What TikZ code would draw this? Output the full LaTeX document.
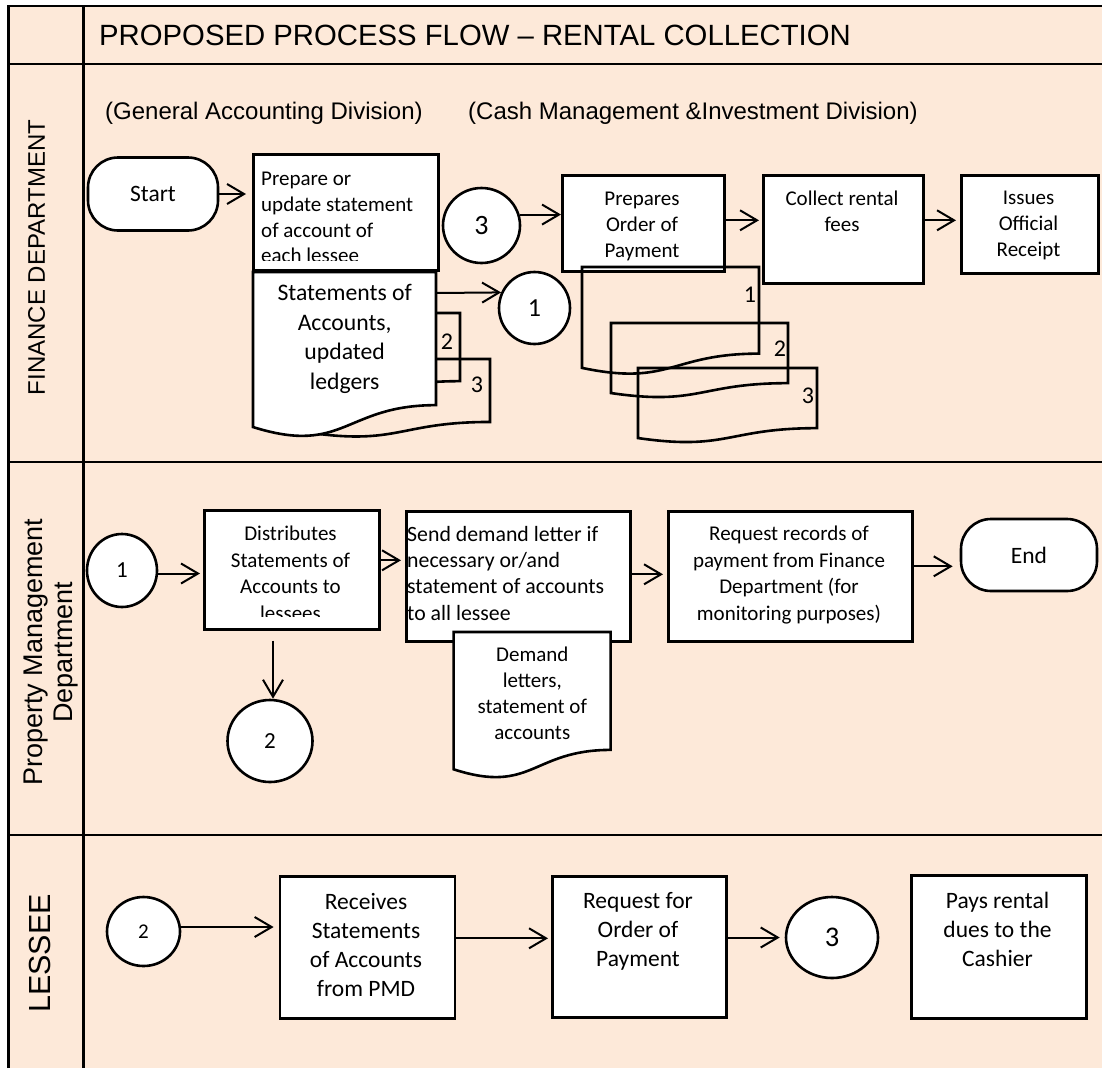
\documentclass[tikz,border=0pt]{standalone}
\usepackage{fontspec}
\setmainfont{Carlito}
\newfontfamily\arialfont{Liberation Sans}
\usetikzlibrary{arrows.meta,positioning,shapes.geometric,calc}
\definecolor{lanefill}{HTML}{FDE9D9}

% document symbol: x, y (top left), width, height
\newcommand{\docshape}[5][]{%
  \draw[doc,#1] (#2,#3) -- ({#2+#4},#3) -- ({#2+#4},{#3+0.802*#5})
    .. controls ({#2+0.5*#4},{#3+0.802*#5}) and ({#2+0.5*#4},{#3+1.107*#5})
    .. (#2,{#3+0.934*#5}) -- cycle;}

\begin{document}
\begin{tikzpicture}[x=1pt, y=-1pt,
  frame/.style={line width=2.7pt},
  pbox/.style={draw, fill=white, line width=2.6pt, rectangle, inner sep=0pt},
  term/.style={pbox, rounded corners=30pt, font=\fontsize{23.5}{28}\selectfont},
  conn/.style={draw, fill=white, line width=2.6pt, ellipse, inner sep=0pt},
  btxt/.style={inner sep=0pt, align=center, font=\fontsize{21}{25.7}\selectfont},
  ltxt/.style={btxt, font=\fontsize{23.5}{29.2}\selectfont},
  doctxt/.style={inner sep=0pt, align=center, anchor=north west},
  cnum/.style={inner sep=0pt, font=\fontsize{24}{26}\selectfont},
  lanelbl/.style={inner sep=0pt, rotate=90},
  doc/.style={line width=2.6pt},
  ar/.style={line width=2pt, -{Straight Barb[length=17pt,width=20pt]}},
]
  \useasboundingbox (0,0) rectangle (1102,1068);
  % swimlanes
  \fill[lanefill] (8.5,6) rectangle (1102,1068);
  \draw[frame] (8.5,1068) -- (8.5,6) -- (1102,6);
  \draw[frame] (83.5,6) -- (83.5,1068);
  \draw[frame] (8.5,64) -- (1102,64);
  \draw[frame] (8.5,462) -- (1102,462);
  \draw[frame] (8.5,835) -- (1102,835);
  \node[anchor=west, inner sep=0pt, font=\arialfont\fontsize{29.3}{34}\selectfont] (title)
    at (99,35) {PROPOSED PROCESS FLOW – RENTAL COLLECTION};
  \node[lanelbl, font=\arialfont\fontsize{24}{28}\selectfont] (finlbl) at (36.5,257.5) {FINANCE DEPARTMENT};
  \node[lanelbl, align=center, font=\arialfont\fontsize{27}{30}\selectfont] (pmdlbl) at (51,652)
    {Property Management\\ Department};
  \node[lanelbl, font=\arialfont\fontsize{30.5}{34}\selectfont] (leslbl) at (40.5,953.5) {LESSEE};

  % finance department
  \node[anchor=west, inner sep=0pt, font=\arialfont\fontsize{24}{28}\selectfont] (gad)
    at (105,113) {(General Accounting Division)};
  \node[anchor=west, inner sep=0pt, font=\arialfont\fontsize{24}{28}\selectfont] (cmid)
    at (468,113) {(Cash Management \&Investment Division)};
  \node[term, minimum width=130pt, minimum height=73pt] (start) at (153,194) {Start};
  \node[pbox, anchor=north west, minimum width=185pt, minimum height=116pt] (prep) at (252,153) {};
  \begin{scope}
    \clip (prep.north west) rectangle ([yshift=11pt]prep.south east);
    \node[btxt, align=left, anchor=north west] (preptxt) at (261,172)
      {Prepare or\\ update statement\\ of account of\\ each lessee};
  \end{scope}
  \docshape{277}{313}{183}{85}
  \docshape{307}{359}{183}{78.5}
  \docshape[fill=white]{253}{272}{183}{166}
  \node[doctxt, minimum width=183pt, minimum height=133pt, font=\fontsize{23.7}{29.5}\selectfont] (soa)
    at (253,272) {Statements of\\ Accounts,\\ updated\\ ledgers};
  \node[cnum] (soa2) at (447,342) {2};
  \node[cnum] (soa3) at (477,385) {3};
  \node[conn, minimum width=77pt, minimum height=75pt, font=\fontsize{28}{30}\selectfont] (c3f) at (481.5,225.5) {3};
  \node[conn, minimum width=71pt, minimum height=72pt, font=\fontsize{26}{28}\selectfont] (c1f) at (534.5,308) {1};
  \node[pbox, anchor=north west, minimum width=162pt, minimum height=96pt] (order) at (561,174) {};
  \begin{scope}
    \clip (order.north west) rectangle ([yshift=10pt]order.south east);
    \node[btxt, anchor=north] (ordertxt) at (642,192) {Prepares\\ Order of\\ Payment};
  \end{scope}
  \docshape{582}{267}{177}{108}
  \docshape{611}{323}{177}{75}
  \docshape{638}{368}{179}{75}
  \node[cnum] (ord1) at (750,295) {1};
  \node[cnum] (ord2) at (780,349) {2};
  \node[cnum] (ord3) at (808,396) {3};
  \node[pbox, anchor=north west, minimum width=160pt, minimum height=108pt] (collect) at (762,174) {};
  \node[btxt, anchor=north] (collecttxt) at (842,191) {Collect rental\\ fees};
  \node[pbox, anchor=north west, minimum width=137pt, minimum height=98pt] (issues) at (960,174) {};
  \node[btxt, anchor=north] (issuestxt) at (1028.5,191) {Issues\\ Official\\ Receipt};
  \draw[ar, shorten >=6pt] (start.east) -- (start.east -| prep.west);
  \draw[ar] ([yshift=-21pt]soa.north east) -- (c1f.155);
  \draw[ar] (c3f.16) -- (c3f.16 -| order.west);
  \draw[ar, shorten >=3pt] ([yshift=3pt]order.east) -- ([yshift=3pt]order.east -| collect.west);
  \draw[ar, shorten >=4pt] ([yshift=9pt]collect.east) -- ([yshift=9pt]collect.east -| issues.west);

  % property management department
  \node[conn, minimum width=70pt, minimum height=73pt, font=\fontsize{23}{25}\selectfont] (c1p) at (122,570.5) {1};
  \node[pbox, anchor=north west, minimum width=175pt, minimum height=119pt] (dist) at (203,509) {};
  \begin{scope}
    \clip (dist.north west) rectangle ([yshift=14pt]dist.south east);
    \node[btxt, anchor=north, font=\fontsize{21}{26.5}\selectfont] (disttxt) at (290.5,526)
      {Distributes\\ Statements of\\ Accounts to\\ lessees};
  \end{scope}
  \node[conn, minimum width=85pt, minimum height=82pt, font=\fontsize{23}{25}\selectfont] (c2p) at (270,741) {2};
  \node[pbox, anchor=north west, minimum width=224pt, minimum height=130pt] (send) at (405,510) {};
  \node[btxt, align=left, anchor=north west, font=\fontsize{21.8}{26.3}\selectfont] (sendtxt) at (407,526)
    {Send demand letter if\\ necessary or/and\\ statement of accounts\\ to all lessee};
  \docshape[fill=white]{453.6}{632}{157}{147}
  \node[doctxt, minimum width=157pt, minimum height=118pt, font=\fontsize{21}{26}\selectfont] (dem)
    at (453.6,634) {Demand\\ letters,\\ statement of\\ accounts};
  \node[pbox, anchor=north west, minimum width=244pt, minimum height=130pt] (reqrec) at (667,510) {};
  \node[btxt, anchor=north, font=\fontsize{21}{26.5}\selectfont] (reqrectxt) at (789,526)
    {Request records of\\ payment from Finance\\ Department (for\\ monitoring purposes)};
  \node[term, minimum width=136pt, minimum height=72pt] (end) at (1029,555) {End};
  \draw[ar, shorten >=3pt] ([yshift=-3pt]c1p.east) -- ([yshift=-3pt]c1p.east -| dist.west);
  \draw[ar, shorten <=10pt] ([xshift=3pt]c2p.north |- dist.south) -- ([xshift=3pt]c2p.north);
  \draw[ar, shorten >=4pt] ([yshift=9.5pt]dist.east) -- ([yshift=9.5pt]dist.east -| send.west);
  \draw[ar, shorten >=4pt] ([yshift=2pt]send.east) -- ([yshift=2pt]send.east -| reqrec.west);
  \draw[ar, shorten >=7pt] ([yshift=10pt]reqrec.east) -- ([yshift=10pt]reqrec.east -| end.west);

  % lessee
  \node[conn, minimum width=73pt, minimum height=69pt, font=\fontsize{21}{23}\selectfont] (c2l) at (143.5,931.5) {2};
  \node[pbox, anchor=north west, minimum width=175pt, minimum height=142pt] (recv) at (278.6,875) {};
  \node[ltxt, anchor=north] (recvtxt) at (366,893) {Receives\\ Statements\\ of Accounts\\ from PMD};
  \node[pbox, anchor=north west, minimum width=174pt, minimum height=141pt] (reqord) at (551,875) {};
  \node[ltxt, anchor=north] (reqordtxt) at (638,892) {Request for\\ Order of\\ Payment};
  \node[conn, minimum width=92pt, minimum height=81pt, font=\fontsize{28.5}{30}\selectfont] (c3l) at (832,937.5) {3};
  \node[pbox, anchor=north west, minimum width=175pt, minimum height=143pt] (pays) at (910,874) {};
  \node[ltxt, anchor=north] (paystxt) at (997.5,892) {Pays rental\\ dues to the\\ Cashier};
  \draw[ar, shorten >=5pt] ([yshift=4.5pt]c2l.east) -- ([yshift=4.5pt]c2l.east -| recv.west);
  \draw[ar, shorten >=3pt] ([yshift=9pt]recv.east) -- ([yshift=9pt]recv.east -| reqord.west);
  \draw[ar, shorten >=5pt] (reqord.east |- c3l) -- (c3l.west);
\end{tikzpicture}
\end{document}
